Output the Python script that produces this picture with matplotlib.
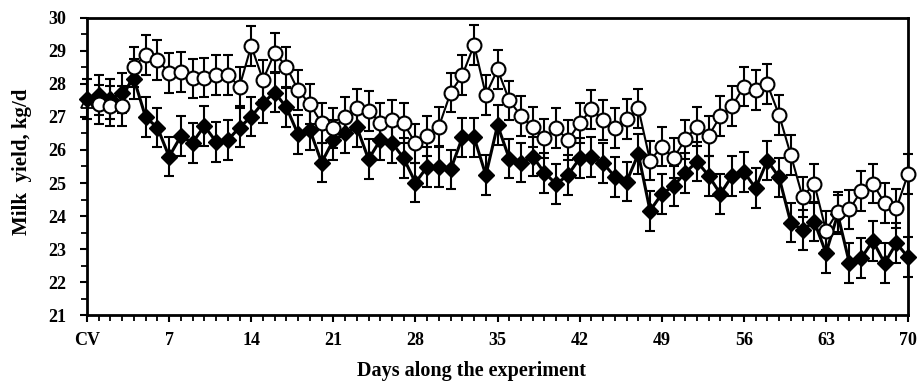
import matplotlib
matplotlib.use("Agg")
import matplotlib.pyplot as plt
from matplotlib.ticker import MultipleLocator

# Milk yield per day (kg/d)
days = list(range(0, 71))
diamond_yield = [27.55, 27.67, 27.54, 27.72, 28.15, 26.99, 26.68, 25.80, 26.42, 26.22,
                 26.73, 26.25, 26.30, 26.68, 27.01, 27.43, 27.74, 27.29, 26.47, 26.61,
                 25.62, 26.30, 26.50, 26.69, 25.72, 26.30, 26.22, 25.75, 25.01, 25.49,
                 25.49, 25.41, 26.38, 26.38, 25.24, 26.75, 25.74, 25.62, 25.80, 25.31,
                 24.97, 25.24, 25.75, 25.78, 25.60, 25.19, 25.04, 25.88, 24.16, 24.67,
                 24.91, 25.31, 25.65, 25.22, 24.67, 25.22, 25.34, 24.84, 25.68, 25.17,
                 23.80, 23.58, 23.83, 22.88, 24.05, 22.57, 22.72, 23.25, 22.57, 23.18,
                 22.75]

circle_days = list(range(1, 71))
circle_yield = [27.38, 27.33, 27.33, 28.52, 28.88, 28.73, 28.34, 28.37, 28.17, 28.19,
                28.27, 28.27, 27.92, 29.15, 28.12, 28.95, 28.52, 27.81, 27.39, 26.81,
                26.66, 26.99, 27.26, 27.19, 26.83, 26.91, 26.81, 26.20, 26.42, 26.71,
                27.74, 28.27, 29.18, 27.67, 28.44, 27.50, 27.03, 26.69, 26.35, 26.66,
                26.30, 26.81, 27.23, 26.91, 26.66, 26.93, 27.26, 25.68, 26.10, 25.75,
                26.32, 26.71, 26.43, 27.03, 27.33, 27.92, 27.82, 27.99, 27.06, 25.85,
                24.58, 24.98, 23.56, 24.13, 24.20, 24.76, 24.98, 24.39, 24.23, 25.28]

# covariate (CV) value for the open-symbol group
cv_day = 0
cv_yield = 27.45

# standard error of the mean (same for both groups)
sem = 0.6

x_ticks = [0, 7, 14, 21, 28, 35, 42, 49, 56, 63, 70]
x_tick_labels = ["CV", "7", "14", "21", "28", "35", "42", "49", "56", "63", "70"]

plt.rcParams["font.family"] = ["Liberation Serif", "DejaVu Serif"]
plt.rcParams["font.weight"] = "bold"

fig = plt.figure(figsize=(9.21, 3.81), dpi=100)
ax = fig.add_axes([0.0945, 0.173, 0.8915, 0.78])

# filled diamonds
ax.errorbar(days, diamond_yield, yerr=sem, color="black", linewidth=2.2,
            marker="D", markersize=8, markerfacecolor="black", markeredgecolor="black",
            ecolor="black", elinewidth=1.5, capsize=3.5, capthick=1.5, zorder=3,
            clip_on=False)

# open circles
ax.errorbar(circle_days, circle_yield, yerr=sem, color="black", linewidth=1.5,
            marker="o", markersize=10, markerfacecolor="white", markeredgecolor="black",
            markeredgewidth=1.5, ecolor="black", elinewidth=1.5, capsize=3.5,
            capthick=1.5, zorder=4, clip_on=False)

# CV point shown as an open triangle
ax.plot([cv_day], [cv_yield], linestyle="none", marker="^", markersize=9,
        markerfacecolor="white", markeredgecolor="black", markeredgewidth=1.3,
        zorder=2, clip_on=False)

ax.set_xlim(0, 70)
ax.set_ylim(21, 30)
ax.set_xticks(x_ticks)
ax.set_xticklabels(x_tick_labels)
ax.xaxis.set_minor_locator(MultipleLocator(1))
ax.yaxis.set_major_locator(MultipleLocator(1))
ax.yaxis.set_minor_locator(MultipleLocator(0.5))

ax.tick_params(axis="both", which="major", direction="out", length=5, width=1.5,
               labelsize=13, pad=7)
ax.tick_params(axis="both", which="minor", direction="out", length=4, width=1.3)
ax.tick_params(axis="y", which="major", pad=10)
for lbl in ax.get_xticklabels() + ax.get_yticklabels():
    lbl.set_fontweight("bold")

for side in ["left", "right", "top", "bottom"]:
    ax.spines[side].set_linewidth(2)

ax.set_xlabel("Days along the experiment", fontsize=14.5, fontweight="bold")
ax.set_ylabel("Milk  yield, kg/d", fontsize=15, fontweight="bold")
ax.xaxis.set_label_coords(0.468, -0.155)
ax.yaxis.set_label_coords(-0.067, 0.515)

plt.savefig("out.png", dpi=100)
